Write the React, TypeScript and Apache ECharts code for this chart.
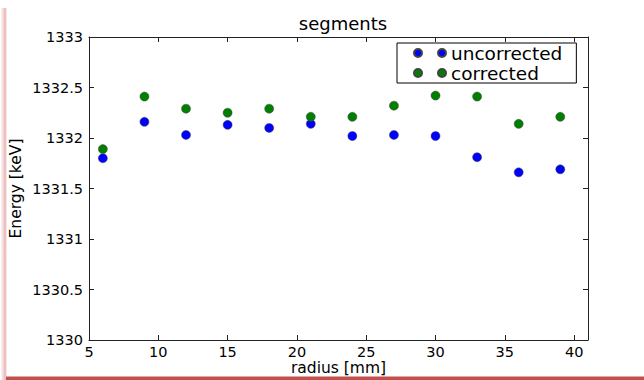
import React, { useEffect, useRef } from "react";
import * as echarts from "echarts";

const radius = [6, 9, 12, 15, 18, 21, 24, 27, 30, 33, 36, 39];
const uncorrected = [1331.80, 1332.16, 1332.03, 1332.13, 1332.10, 1332.14, 1332.02, 1332.03, 1332.02, 1331.81, 1331.66, 1331.69];
const corrected = [1331.89, 1332.41, 1332.29, 1332.25, 1332.29, 1332.21, 1332.21, 1332.32, 1332.42, 1332.41, 1332.14, 1332.21];
const seriesNames = ["uncorrected", "corrected"];
const titleText = "segments";
const xName = "radius [mm]";
const yName = "Energy [keV]";

const FONT = "DejaVu Sans";
const twoDots =
  "path://M0,4a4,4 0 1,0 8,0a4,4 0 1,0 -8,0M24,4a4,4 0 1,0 8,0a4,4 0 1,0 -8,0";

export default function App() {
  const ref = useRef<HTMLDivElement>(null);
  useEffect(() => {
    document.body.style.margin = "0";
    const chart = echarts.init(ref.current!, undefined, { renderer: "svg" });
    const axisLine = { show: true, lineStyle: { color: "#222", width: 1 } };
    const axisTick = { show: true, inside: true, length: 5, lineStyle: { color: "#222" } };
    chart.setOption({
      animation: false,
      backgroundColor: "#fff",
      title: {
        text: titleText,
        left: 338,
        textAlign: "center",
        top: 9,
        textStyle: { fontFamily: FONT, fontSize: 18, fontWeight: "normal", color: "#000" },
      },
      legend: {
        orient: "vertical",
        left: 397,
        top: 43,
        padding: [0, 14, 0, 16],
        itemGap: 0,
        itemWidth: 32,
        itemHeight: 8,
        icon: twoDots,
        borderColor: "#000",
        borderWidth: 1,
        backgroundColor: "#fff",
        textStyle: { fontFamily: FONT, fontSize: 18.5, color: "#000", lineHeight: 20 },
        data: seriesNames,
      },
      grid: { left: 89, top: 37, width: 499, height: 303, containLabel: false, outerBoundsMode: "none" },
      xAxis: [
        {
          type: "value",
          min: 5,
          max: 41,
          interval: 5,
          name: xName,
          nameLocation: "middle",
          nameGap: 20,
          nameMoveOverlap: false,
          nameTextStyle: { fontFamily: FONT, fontSize: 15.5, color: "#000" },
          axisLine,
          axisTick,
          splitLine: { show: false },
          axisLabel: { showMaxLabel: false, margin: 4, fontFamily: FONT, fontSize: 14.5, color: "#000" },
        },
        {
          type: "value",
          position: "top",
          min: 5,
          max: 41,
          interval: 5,
          axisLine,
          axisTick,
          splitLine: { show: false },
          axisLabel: { show: false },
        },
      ],
      yAxis: [
        {
          type: "value",
          min: 1330,
          max: 1333,
          interval: 0.5,
          name: yName,
          nameLocation: "middle",
          nameGap: 65,
          nameMoveOverlap: false,
          nameTextStyle: { fontFamily: FONT, fontSize: 15.5, color: "#000" },
          axisLine,
          axisTick,
          splitLine: { show: false },
          axisLabel: {
            margin: 6,
            fontFamily: FONT,
            fontSize: 14.5,
            color: "#000",
            formatter: (v: number) => String(v),
          },
        },
        {
          type: "value",
          position: "right",
          min: 1330,
          max: 1333,
          interval: 0.5,
          axisLine,
          axisTick,
          splitLine: { show: false },
          axisLabel: { show: false },
        },
      ],
      series: [
        {
          name: seriesNames[0],
          type: "scatter",
          symbolSize: 9,
          itemStyle: { color: "#0000ff", borderColor: "#444", borderWidth: 0.5, opacity: 1 },
          data: radius.map((r, i) => [r, uncorrected[i]]),
        },
        {
          name: seriesNames[1],
          type: "scatter",
          symbolSize: 9,
          itemStyle: { color: "#007f00", borderColor: "#444", borderWidth: 0.5, opacity: 1 },
          data: radius.map((r, i) => [r, corrected[i]]),
        },
      ],
      graphic: [
        {
          type: "rect",
          shape: { x: 1, y: 8, width: 7, height: 372 },
          style: {
            fill: new echarts.graphic.LinearGradient(0, 0, 1, 0, [
              { offset: 0, color: "rgba(240,200,200,0.2)" },
              { offset: 0.6, color: "rgba(225,150,150,0.75)" },
              { offset: 1, color: "rgba(255,255,255,0)" },
            ]),
          },
          silent: true,
        },
        {
          type: "rect",
          shape: { x: 6, y: 376.5, width: 638, height: 3.5 },
          style: { fill: "#c0504d" },
          silent: true,
        },
      ],
    });
    return () => chart.dispose();
  }, []);
  return <div ref={ref} style={{ width: 644, height: 380 }} />;
}
